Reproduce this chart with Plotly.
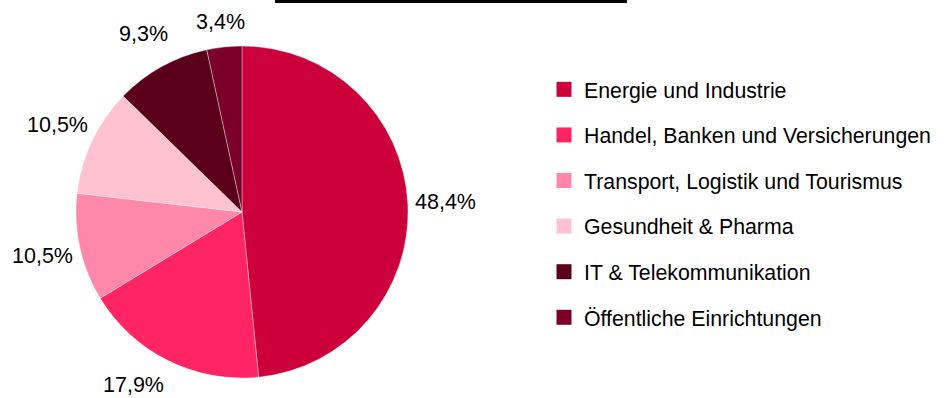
import math
import plotly.graph_objects as go

labels = ["Energie und Industrie", "Handel, Banken und Versicherungen",
          "Transport, Logistik und Tourismus", "Gesundheit & Pharma",
          "IT & Telekommunikation", "Öffentliche Einrichtungen"]
values = [48.4, 17.9, 10.5, 10.5, 9.3, 3.4]
colors = ["#cc003a", "#ff2464", "#ff88aa", "#ffc2d1", "#5a001b", "#7b0029"]

FONT = "Liberation Sans, Arial, sans-serif"
W, H = 946, 398

# pie domain (pixels) -> paper
PX0, PX1, PY0, PY1 = 76, 408, 46, 378
dom_x = [PX0 / W, PX1 / W]
dom_y = [1 - PY1 / H, 1 - PY0 / H]

fig = go.Figure()
fig.add_trace(go.Pie(
    labels=labels, values=values, sort=False, direction="clockwise", rotation=0,
    marker=dict(colors=colors, line=dict(color="rgba(255,255,255,0.6)", width=0.6)),
    textinfo="none", showlegend=False, hoverinfo="label+percent",
    domain=dict(x=dom_x, y=dom_y),
))

# outside value labels, centred on a ring around the pie at each slice's mid angle,
# kept inside the page
cx, cy = (PX0 + PX1) / 2, (PY0 + PY1) / 2
R = min(PX1 - PX0, PY1 - PY0) / 2
RING = R + 38
MIN_Y, MAX_Y = 22, 385
total = sum(values)
cum = 0.0
for v in values:
    mid = (cum + v / 2) / total
    cum += v
    th = math.radians(90 - 360 * mid)
    c, s = math.cos(th), math.sin(th)
    px, py = cx + RING * c, cy - RING * s
    if py > MAX_Y:
        py = MAX_Y
        px = cx + math.copysign(math.sqrt(RING ** 2 - (py - cy) ** 2), c)
    py = max(py, MIN_Y)
    fig.add_annotation(x=px / W, y=1 - py / H, xref="paper", yref="paper",
                       text=f"{v:.1f}".replace(".", ",") + "%", showarrow=False,
                       xanchor="center", yanchor="middle",
                       font=dict(family=FONT, size=21.5, color="#000000"))

for lab, col in zip(labels, colors):
    fig.add_trace(go.Scatter(
        x=[None], y=[None], mode="markers", name=lab, legendgroup=lab,
        marker=dict(symbol="square", size=15, color=col, line=dict(width=0)),
        showlegend=True, hoverinfo="skip",
    ))

fig.add_shape(type="rect", xref="paper", yref="paper",
              x0=275 / W, x1=627 / W, y0=1 - 3 / H, y1=1,
              fillcolor="#000000", line=dict(width=0))

fig.update_layout(
    width=W, height=H, margin=dict(l=0, r=0, t=0, b=0),
    paper_bgcolor="#ffffff", plot_bgcolor="#ffffff",
    font=dict(family=FONT, size=21, color="#000000"),
    xaxis=dict(visible=False), yaxis=dict(visible=False),
    legend=dict(x=544 / W, xanchor="left", y=1 - 69 / H, yanchor="top",
                font=dict(family=FONT, size=21.3, color="#000000"),
                tracegroupgap=14.9, bgcolor="rgba(0,0,0,0)", itemsizing="trace"),
)

fig.write_html("out.html")
